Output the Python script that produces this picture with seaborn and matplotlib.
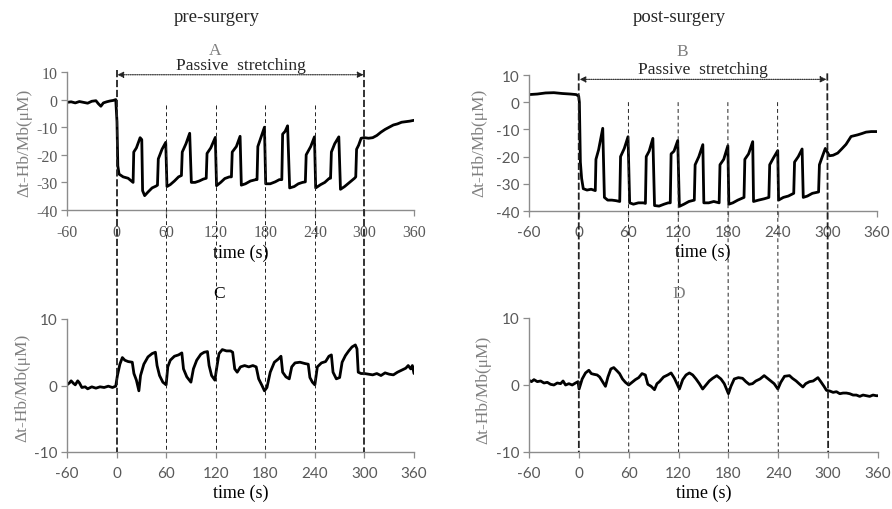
import numpy as np
import pandas as pd
import matplotlib
matplotlib.use("Agg")
import matplotlib.pyplot as plt
from matplotlib.lines import Line2D
import seaborn as sns

# --- datos (tiempo en s, valor en uM) ---
t_a = [-60, -55, -50, -45, -40, -35, -30, -25, -22, -19, -16, -12, -8, -4, -1, 0.5, 1.5, 3, 8, 14, 20,
       20.8, 24, 28.5, 30.5, 31.5, 34, 38, 43, 48, 49.5, 50.5, 55, 59.5, 61, 65, 70, 75, 78.5, 79.5, 84,
       88.5, 90.5, 95, 100, 105, 108.5, 109.5, 114, 119.5, 121, 126, 131, 136.5, 139, 140, 145, 149.5,
       151, 156, 162, 168.5, 170, 171, 175, 179, 180.5, 186, 192, 197, 200, 201, 204, 207, 209.5, 215,
       220, 225, 228.5, 229.5, 235, 239.5, 241, 247, 252, 257.5, 259, 260, 264, 269, 271, 276, 282, 288,
       289.5, 290.5, 293, 296, 300, 305, 310, 315, 320, 325, 330, 335, 340, 345, 350, 355, 360]
v_a = [-1, -0.8, -1.2, -0.7, -1.0, -1.3, -0.6, -0.4, -1.5, -2.4, -1.2, -0.8, -0.5, -0.3, 0, -8, -24, -27,
       -28, -28.5, -30, -19, -17.5, -13.8, -14.5, -33, -34.8, -33.5, -32, -31.3, -31, -21.5, -18, -15.5,
       -31.5, -30.8, -29.5, -28, -27.5, -19, -16, -12.2, -30, -30, -29.5, -28.8, -28.5, -19.5, -17.5,
       -13.7, -31.2, -30, -28.6, -28, -28, -19, -17, -13.3, -31, -30.5, -29.5, -29, -29, -17, -13.5, -10,
       -30.5, -30.5, -29.8, -29, -29, -12.5, -11.5, -9.5, -32, -31.5, -30.5, -30, -29.8, -20, -17, -13.5,
       -32, -30.8, -30, -28.5, -28.5, -19, -16, -13.5, -32.5, -31.5, -30, -28.5, -28, -18, -16.5, -14,
       -13.8, -14, -13.8, -13, -11.8, -10.8, -10, -9.2, -8.8, -8.2, -8, -7.8, -7.5]

t_b = [-60, -50, -40, -30, -20, -10, -3, 0, 0.8, 2, 3.5, 5.5, 10, 15, 20, 20.8, 24, 29, 31, 35, 40, 45,
       49.5, 50.5, 55, 59.5, 61.5, 66, 72, 78, 80.5, 81.5, 85, 89.5, 91.5, 97, 103, 108, 110.5, 111.5,
       115, 119.5, 121.5, 127, 133, 139.5, 140.5, 145, 149.8, 151, 157, 163, 169.5, 170.5, 175, 180,
       181.2, 186, 192, 199.5, 200.5, 205, 210, 211, 217, 224, 229.5, 230.5, 235, 240.2, 241.2, 247,
       253, 259.5, 260.5, 265, 269.6, 271, 276, 282, 289.5, 290.5, 294, 297.6, 302.5, 307, 312.6, 318,
       322.6, 328.7, 336.7, 342, 346.8, 353, 360]
v_b = [2.8, 3.0, 3.4, 3.5, 3.2, 3.0, 2.8, 2.2, 0, -22, -28, -31.8, -32.3, -32, -32.5, -21, -17.5, -9.6,
       -35, -36, -36, -36.2, -36.5, -20, -17, -12.7, -37, -37.5, -37, -37, -37.2, -20, -18, -13.3, -38,
       -38.2, -37.5, -37, -37, -19, -18, -14.1, -38.3, -37.5, -36.5, -36, -23, -20, -15.6, -37, -37,
       -36.5, -37, -23, -21, -16, -37.5, -37, -36, -35, -21, -19, -14.5, -36.5, -36, -35.5, -35, -23,
       -20.5, -17.8, -36, -35, -34.5, -33.5, -22, -20, -17.2, -35, -34.5, -33.5, -33, -23, -20, -17,
       -19.7, -19.5, -18.7, -17, -15.5, -12.6, -12, -11.5, -11, -10.8, -10.8]

t_c = [-60, -57, -55, -52, -50, -47, -45, -42, -38, -35, -30, -25, -20, -15, -10, -5, -1, 1, 4, 7, 10,
       14, 19, 21, 24, 27, 29, 33, 38, 43, 47, 49, 52, 56, 60, 62, 65, 70, 75, 79, 81, 85, 90, 93, 97,
       102, 106, 110, 112, 115, 119, 121, 124, 128, 133, 138, 140.5, 143, 146, 150, 155, 160, 165, 169,
       172, 176, 179, 182, 186, 191, 196, 199, 201, 205, 209, 212, 216, 222, 228, 232, 234, 237, 240,
       243, 248, 253, 257, 260, 262, 266, 270, 273, 277, 281, 285, 289, 291, 292.5, 296, 300, 305, 310,
       315, 320, 325, 330, 335, 340, 345, 350, 353, 356, 358, 360]
v_c = [0.1, 0.4, 0.7, 0.3, 0.1, 0.7, 0.4, -0.3, -0.2, -0.5, -0.2, -0.4, -0.2, -0.3, -0.1, -0.3, -0.1,
       1.5, 3.2, 4.2, 3.8, 3.6, 3.5, 1.8, 0.8, -0.8, 1.5, 3.2, 4.3, 4.8, 5.0, 3, 1.5, 0.5, 0.1, 2.8,
       3.8, 4.4, 4.6, 4.9, 2.5, 1.3, 0.5, 2.5, 3.8, 4.7, 5.0, 5.1, 3.0, 1.5, 0.8, 2.5, 4.8, 5.4, 5.2,
       5.2, 5.0, 2.5, 2.0, 2.8, 3.0, 2.8, 3.0, 2.8, 1.0, 0.0, -0.8, -0.3, 2.0, 3.5, 4.0, 4.4, 2.0, 1.3,
       1.0, 2.8, 3.4, 3.5, 3.3, 3.2, 1.2, 0.5, 0.1, 2.8, 3.4, 3.6, 4.4, 4.6, 2.0, 1.0, 1.2, 3.5, 4.5,
       5.2, 5.8, 6.1, 5.5, 2.0, 1.8, 1.8, 1.7, 1.6, 1.8, 1.5, 1.9, 1.7, 1.6, 2.0, 2.3, 2.6, 3.0, 2.5,
       3.0, 1.8]

t_d = [-60, -57, -54, -50, -46, -42, -38, -34, -30, -26, -22, -19, -16, -12, -8, -4, -1, 0.3, 4, 8, 12,
       15, 18, 22, 25, 28, 32, 35, 38.5, 42, 46, 49, 52.5, 56, 60, 64, 68, 72, 76, 80, 83, 87, 91, 94,
       97, 102, 107, 111, 115, 118, 121, 125, 129, 133, 137, 141, 145, 149, 153, 157, 161, 166, 171,
       175, 180, 183, 187, 192, 197, 201, 205, 209, 213, 218, 223, 227, 231, 235, 239.5, 243, 247.5,
       253.5, 257, 261.5, 265, 269.6, 273, 277.6, 282, 287.7, 291.7, 295, 298, 302, 306, 310, 314, 318,
       322, 326, 330, 334, 338, 342, 346, 350, 354, 358, 360]
v_d = [0.7, 0.5, 0.8, 0.5, 0.6, 0.3, 0.4, 0.1, 0.0, 0.3, 0.2, 0.6, 0.0, 0.2, 0.0, 0.3, 0.5, -0.6, 0.9,
       1.8, 2.2, 1.7, 1.6, 1.5, 1.2, 0.6, -0.2, 1.2, 2.4, 2.6, 2.1, 1.7, 0.9, 0.4, 0.0, 0.4, 0.8, 1.1,
       1.7, 1.5, 0.1, -0.2, -0.7, 0.2, 0.5, 1.2, 1.5, 1.8, 1.0, 0.2, -0.6, 0.8, 1.5, 1.8, 1.5, 0.9, 0.2,
       -0.6, 0.0, 0.6, 1.0, 1.4, 0.9, 0.2, -1.3, -0.2, 0.9, 1.1, 1.0, 0.5, 0.1, 0.2, 0.6, 0.9, 1.4, 1.0,
       0.6, 0.2, -0.6, 0.4, 1.3, 1.4, 1.0, 0.6, 0.2, -0.3, 0.2, 0.5, 0.6, 1.1, 0.4, -0.2, -0.8, -0.9,
       -1.1, -1.0, -1.3, -1.2, -1.2, -1.3, -1.5, -1.5, -1.7, -1.5, -1.6, -1.7, -1.5, -1.6, -1.6]

ticks_x = [-60, 0, 60, 120, 180, 240, 300, 360]
ticks_y_top = [10, 0, -10, -20, -30, -40]
ticks_y_bot = [10, 0, -10]
stretch_lines = [60, 120, 180, 240]
ylabel = "\u0394t-Hb/Mb(\u03bcM)"

sns.set_theme(style="ticks")
plt.rcParams['font.family'] = ['Liberation Serif', 'DejaVu Serif']
plt.rcParams['axes.unicode_minus'] = False

GRIS = '#595959'
EJE = '#8c8c8c'
W, H = 892, 510


def px_axes(fig, left, top, right, bottom):
    return fig.add_axes([left / W, 1 - bottom / H, (right - left) / W, (bottom - top) / H])


def estilo(ax, yticks, serif_ticks):
    ax.set_xlim(-60, 360)
    ax.set_ylim(yticks[-1], yticks[0])
    ax.set_xticks(ticks_x)
    ax.set_yticks(yticks)
    sns.despine(ax=ax)
    for s in ['left', 'bottom']:
        ax.spines[s].set_color(EJE)
        ax.spines[s].set_linewidth(1.0)
    ax.tick_params(direction='out', length=4, width=0.9, color=EJE, labelcolor=GRIS, pad=3)
    ax.tick_params(axis='x', pad=6)
    fam = ['Liberation Serif'] if serif_ticks else ['Lato', 'DejaVu Sans']
    for lab in ax.get_xticklabels() + ax.get_yticklabels():
        lab.set_family(fam)
        lab.set_fontsize(11.5 if serif_ticks else 11)
    ax.set_xlabel('time (s)', fontsize=13, color='black', labelpad=3)
    ax.set_ylabel('')
    ax.patch.set_alpha(0)


fig = plt.figure(figsize=(W / 100, H / 100), dpi=100)
ax_a = px_axes(fig, 67, 73, 414, 211)
ax_b = px_axes(fig, 529, 76, 877, 212)
ax_c = px_axes(fig, 67, 320, 414, 453)
ax_d = px_axes(fig, 529, 319, 878, 453)

paneles = [(ax_a, t_a, v_a, ticks_y_top, True), (ax_b, t_b, v_b, ticks_y_top, False),
           (ax_c, t_c, v_c, ticks_y_bot, False), (ax_d, t_d, v_d, ticks_y_bot, False)]
for ax, t, v, yt, serif in paneles:
    df = pd.DataFrame({'t': t, 'v': v})
    sns.lineplot(data=df, x='t', y='v', ax=ax, color='black', lw=2.0, estimator=None, sort=False)
    estilo(ax, yt, serif)

# flechas "Passive stretching"
for ax, yv in [(ax_a, 9.0), (ax_b, 8.4)]:
    ax.annotate('', xy=(1, yv), xytext=(299, yv),
                arrowprops=dict(arrowstyle='<|-|>', ls=(0, (1, 1)), lw=0.8, color='#222222',
                                mutation_scale=9, shrinkA=0, shrinkB=0), annotation_clip=False)
    ax.text(150, yv + 0.8, 'Passive  stretching', ha='center', va='bottom', fontsize=12.5)


# lineas verticales que cruzan ambos paneles
def vline(ax_top, ax_bot, x, y_top, **kw):
    inv = fig.transFigure.inverted()
    x0, y0 = inv.transform(ax_top.transData.transform((x, y_top)))
    x1, y1 = inv.transform(ax_bot.transData.transform((x, ax_bot.get_ylim()[0])))
    fig.add_artist(Line2D([x0, x1], [y0, y1], transform=fig.transFigure, color='#222222', **kw))


for ax_t, ax_bt, top_thin in [(ax_a, ax_c, -2), (ax_b, ax_d, 0)]:
    for x in [0, 300]:
        vline(ax_t, ax_bt, x, 10.6, lw=1.3, ls=(0, (4, 1.5)))
    for x in stretch_lines:
        vline(ax_t, ax_bt, x, top_thin, lw=0.7, ls=(0, (4, 3)))

# textos
fig.text(217 / W, 1 - 18 / H, 'pre-surgery', ha='center', va='center', fontsize=13.5)
fig.text(679 / W, 1 - 18 / H, 'post-surgery', ha='center', va='center', fontsize=13.5)
fig.text(215 / W, 1 - 51 / H, 'A', ha='center', va='center', fontsize=12.5, color='#7f7f7f')
fig.text(682 / W, 1 - 52 / H, 'B', ha='center', va='center', fontsize=12.5, color='#7f7f7f')
fig.text(219 / W, 1 - 294 / H, 'C', ha='center', va='center', fontsize=12.5, color='black')
fig.text(679 / W, 1 - 294 / H, 'D', ha='center', va='center', fontsize=12.5, color='#7f7f7f')
for xp, yp in [(24, 143), (479, 143), (22, 388), (483, 390)]:
    fig.text(xp / W, 1 - yp / H, ylabel, rotation=90, ha='center', va='center',
             fontsize=12.5, color='#7f7f7f')

fig.savefig('out.png', dpi=100)
